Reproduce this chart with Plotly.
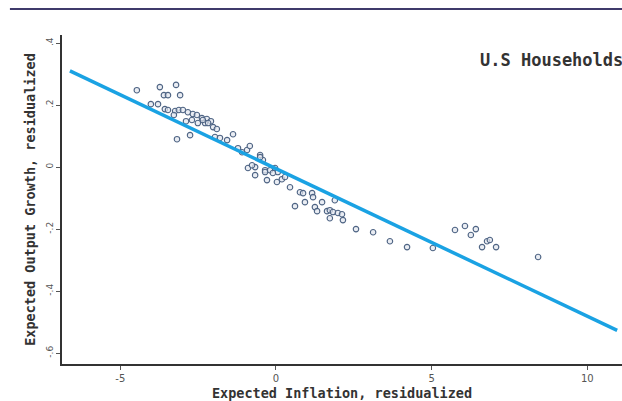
import plotly.graph_objects as go

# Scatter data (expected inflation residualized, expected output growth residualized)
infl = [-4.47, -3.73, -3.21, -3.60, -3.47, -3.08, -4.02, -3.79, -3.57, -3.47,
        -3.24, -3.12, -2.99, -2.83, -2.67, -2.54, -2.38, -2.22, -2.09, -2.89,
        -2.70, -2.51, -2.28, -3.18, -2.76, -3.28, -2.35, -2.18, -2.02, -1.90,
        -1.38, -1.96, -1.80, -1.57, -1.22, -0.93, -0.84, -1.09, -0.51, -0.42,
        -0.90, -0.67, -0.35, -0.03, 0.06, -0.51, -0.77, -0.67, -0.35, -0.19,
        -0.10, -0.29, 0.03, 0.19, 0.29, 0.45, 0.77, 0.87, 1.16, 1.19,
        0.93, 0.61, 1.25, 1.48, 1.89, 1.32, 1.64, 1.73, 1.83, 1.99,
        2.12, 1.73, 2.15, 2.57, 3.12, 3.66, 4.21, 5.04, 5.75, 6.07,
        6.42, 6.26, 6.62, 6.78, 6.87, 7.07, 8.42]
growth = [0.248, 0.258, 0.265, 0.232, 0.232, 0.232, 0.203, 0.203, 0.187, 0.184,
          0.181, 0.184, 0.184, 0.177, 0.171, 0.168, 0.158, 0.155, 0.148, 0.148,
          0.152, 0.142, 0.142, 0.090, 0.103, 0.168, 0.152, 0.142, 0.129, 0.123,
          0.106, 0.097, 0.094, 0.087, 0.061, 0.055, 0.068, 0.048, 0.039, 0.023,
          -0.003, 0.000, -0.010, -0.003, -0.016, 0.032, 0.006, -0.026, -0.016, -0.010,
          -0.019, -0.042, -0.048, -0.039, -0.032, -0.065, -0.081, -0.084, -0.084, -0.097,
          -0.113, -0.126, -0.129, -0.113, -0.107, -0.142, -0.142, -0.139, -0.145, -0.148,
          -0.152, -0.165, -0.171, -0.200, -0.210, -0.239, -0.258, -0.261, -0.203, -0.190,
          -0.200, -0.219, -0.258, -0.239, -0.235, -0.258, -0.290]

# Fitted line
fit_intercept = -0.005
fit_slope = -0.0476
fit_x = [-6.62, 10.96]
fit_y = [fit_intercept + fit_slope * v for v in fit_x]

xtick_vals = [-5, 0, 5, 10]
xtick_text = ["-5", "0", "5", "10"]
ytick_vals = [0.4, 0.2, 0.0, -0.2, -0.4, -0.6]
ytick_text = [".4", ".2", "0", "-.2", "-.4", "-.6"]

fig = go.Figure()
fig.add_trace(go.Scatter(
    x=infl, y=growth, mode="markers",
    marker=dict(symbol="circle", size=5.5, color="rgba(225,230,238,0.7)",
                line=dict(color="#4d6383", width=1.1)),
    showlegend=False, hoverinfo="skip"))
fig.add_trace(go.Scatter(
    x=fit_x, y=fit_y, mode="lines",
    line=dict(color="#1aa2e3", width=3.5),
    showlegend=False, hoverinfo="skip"))

mono = "DejaVu Sans Mono"
fig.update_layout(
    width=622, height=401,
    template="none",
    margin=dict(l=62, r=0, t=35, b=37),
    paper_bgcolor="white", plot_bgcolor="white",
    xaxis=dict(range=[-6.874, 11.115], tickvals=xtick_vals, ticktext=xtick_text,
               showgrid=False, zeroline=False, showline=True, linecolor="#333",
               linewidth=1.5, ticks="outside", ticklen=4, tickcolor="#555",
               tickfont=dict(family="DejaVu Sans", size=10, color="#555"),
               title=dict(text="<b>Expected Inflation, residualized</b>",
                          font=dict(family=mono, size=13.5, color="#333"), standoff=6),
               automargin=False),
    yaxis=dict(range=[-0.635, 0.426], tickvals=ytick_vals, ticktext=ytick_text,
               showgrid=False, zeroline=False, showline=True, linecolor="#333",
               linewidth=1.5, ticks="outside", ticklen=4, tickcolor="#555",
               tickangle=-90,
               tickfont=dict(family="DejaVu Sans", size=9, color="#555"),
               title=dict(text="<b>Expected Output Growth, residualized</b>",
                          font=dict(family=mono, size=13.5, color="#333"), standoff=6),
               automargin=False),
    shapes=[dict(type="line", xref="paper", yref="paper",
                 x0=-0.093, x1=1.0, y0=1.079, y1=1.079,
                 line=dict(color="#3f3a6b", width=2))],
    annotations=[dict(text="<b>U.S Households</b>", xref="paper", yref="paper",
                      x=0.743, y=0.924, xanchor="left", yanchor="middle",
                      showarrow=False,
                      font=dict(family=mono, size=17, color="#333"))],
)

fig.write_html("out.html")
